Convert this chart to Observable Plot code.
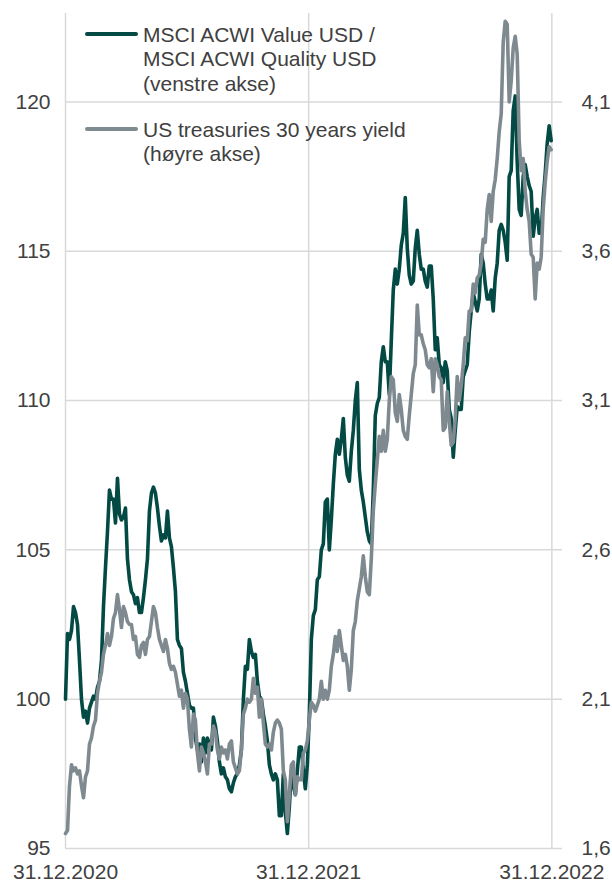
<!DOCTYPE html>
<html>
<head>
<meta charset="utf-8">
<script src="https://cdn.jsdelivr.net/npm/d3@7"></script>
<script src="https://cdn.jsdelivr.net/npm/@observablehq/plot@0.6"></script>
<style>
  html, body { margin: 0; padding: 0; background: #fff; }
  #wrap { position: relative; width: 612px; height: 882px; font-family: "Liberation Sans", Arial, sans-serif; color: #404040; }
  .leg { position: absolute; left: 85px; font-size: 21px; line-height: 24.7px; white-space: nowrap; }
  .sw { position: absolute; left: 0; width: 53px; height: 4px; border-radius: 2px; }
  .lt { position: absolute; left: 58px; top: 0; }
</style>
</head>
<body>
<div id="wrap">
  <div id="chart"></div>
  <div class="leg" style="top:22.6px"><span class="sw" id="sw1" style="top:9.4px"></span><span class="lt" id="lt1"></span></div>
  <div class="leg" style="top:117.6px"><span class="sw" id="sw2" style="top:9.4px"></span><span class="lt" id="lt2"></span></div>
</div>
<script>
// ---- Data ----
const seriesNames = [
  ["MSCI ACWI Value USD /", "MSCI ACWI Quality USD", "(venstre akse)"],
  ["US treasuries 30 years yield", "(høyre akse)"]
];
const seriesColors = ["#034a45", "#7f8a90"];

// Samples every 3 days starting 31.12.2020
const sampleStart = "2020-12-31";
const sampleStepDays = 3;

// MSCI ACWI Value / Quality ratio (left axis)
const ratioValues = [
  100.0,102.2,102.0,102.3,103.1,102.9,102.5,101.3,100.0,99.4,
  99.6,99.2,99.7,99.9,100.1,100.0,100.4,100.6,101.3,103.1,
  104.4,105.6,107.0,106.7,106.7,105.9,107.4,106.2,106.0,106.1,
  106.4,104.7,104.0,103.6,103.5,103.2,103.4,102.9,102.9,103.4,
  104.0,104.7,106.3,106.9,107.1,106.9,106.4,105.8,105.3,105.5,
  105.4,106.3,105.4,105.1,104.4,103.6,102.0,101.8,101.7,100.9,
  100.6,100.2,99.8,99.7,99.7,98.7,98.3,98.5,97.9,98.7,
  98.2,98.7,98.5,98.3,99.4,99.1,98.6,97.9,97.5,97.7,
  97.4,97.3,97.0,96.9,97.2,97.4,97.5,97.8,98.3,100.0,
  101.1,101.0,102.0,101.6,101.4,101.5,100.6,100.1,100.0,99.5,
  99.1,98.6,97.8,97.5,97.3,97.5,97.3,96.1,96.1,97.5,
  96.2,95.5,96.4,97.6,97.1,96.8,97.6,98.4,98.4,97.6,
  97.0,97.8,99.5,102.0,102.8,103.0,104.0,104.1,105.0,105.2,
  106.6,106.7,105.0,106.0,107.2,108.2,108.7,108.2,108.7,109.4,
  108.1,107.5,107.3,108.3,109.0,110.0,110.6,107.7,107.0,106.6,
  106.1,105.6,105.3,105.2,107.0,109.5,109.9,110.1,111.3,111.8,
  111.3,111.3,110.2,112.0,113.7,114.4,113.9,114.4,115.2,115.6,
  116.8,115.1,114.2,113.9,114.0,115.1,115.7,114.9,114.4,114.4,
  114.0,113.8,114.5,114.5,113.4,111.7,112.1,111.2,111.1,110.6,
  111.3,111.0,109.7,109.4,108.1,109.0,109.8,109.7,109.7,110.8,
  111.0,111.2,112.3,113.0,113.6,113.3,113.0,113.4,114.9,114.6,
  113.9,113.4,113.4,113.7,113.0,114.1,114.6,115.7,115.9,115.7,
  115.3,114.7,117.5,117.7,119.7,120.2,118.0,116.4,116.2,117.5,
  117.9,117.5,117.2,117.0,115.5,116.1,116.4,115.6,115.6,116.8,
  117.6,118.6,119.2,118.7
];

// US treasuries 30 years yield, % (right axis)
const yieldValues = [
  1.65,1.66,1.81,1.88,1.86,1.87,1.85,1.86,1.81,1.77,
  1.84,1.86,1.95,1.97,2.01,2.03,2.12,2.16,2.19,2.25,
  2.28,2.32,2.28,2.31,2.37,2.39,2.45,2.40,2.34,2.41,
  2.39,2.36,2.35,2.35,2.30,2.31,2.25,2.24,2.28,2.29,
  2.25,2.30,2.31,2.36,2.41,2.39,2.34,2.30,2.28,2.26,
  2.30,2.27,2.22,2.20,2.21,2.19,2.15,2.11,2.13,2.07,
  2.12,2.10,2.00,1.94,2.05,2.03,1.92,1.86,1.94,1.92,
  1.89,1.85,1.95,1.95,2.01,1.99,1.93,1.90,1.94,1.92,
  1.93,1.90,1.95,1.96,1.89,1.87,1.85,1.86,1.93,2.05,
  2.07,2.10,2.09,2.10,2.17,2.12,2.14,2.04,2.10,2.02,
  1.95,1.94,1.95,1.93,1.99,2.02,2.03,2.02,2.00,1.86,
  1.83,1.69,1.78,1.88,1.89,1.78,1.84,1.83,1.83,1.92,
  1.93,1.96,2.03,2.09,2.08,2.06,2.08,2.10,2.16,2.10,
  2.13,2.10,2.13,2.21,2.25,2.31,2.26,2.33,2.28,2.23,
  2.25,2.21,2.13,2.20,2.33,2.36,2.43,2.47,2.51,2.58,
  2.51,2.46,2.45,2.57,2.73,2.82,2.90,2.98,2.93,3.00,
  2.93,2.97,3.10,3.18,3.17,3.06,3.03,3.12,3.07,3.00,
  2.98,2.97,3.05,3.12,3.19,3.22,3.42,3.32,3.32,3.29,
  3.27,3.22,3.21,3.24,3.13,3.24,3.22,3.18,3.17,3.00,
  3.01,3.13,3.03,2.95,2.96,3.04,3.18,3.10,3.15,3.22,
  3.31,3.30,3.40,3.40,3.49,3.46,3.51,3.52,3.56,3.64,
  3.63,3.74,3.79,3.70,3.80,3.84,3.91,4.00,4.06,4.30,
  4.37,4.36,4.10,4.17,4.28,4.32,4.26,3.97,3.87,3.91,
  3.80,3.74,3.70,3.59,3.58,3.44,3.56,3.54,3.58,3.74,
  3.83,3.90,3.95,3.94
];

// Axes
const leftTicks = [95, 100, 105, 110, 115, 120];
const rightTickYields = [1.6, 2.1, 2.6, 3.1, 3.6, 4.1];
const rightTickLabels = ["1,6", "2,1", "2,6", "3,1", "3,6", "4,1"];
const xTickDateStrings = ["2020-12-31", "2021-12-31", "2022-12-31"];
const xTickLabels = ["31.12.2020", "31.12.2021", "31.12.2022"];
const xDomainStrings = ["2020-12-31", "2023-01-16"];
const leftDomain = [95, 122.96];
// axis link: left value = leftBase + (yield - rightBase) * axisFactor
const leftBase = 95, rightBase = 1.6, axisFactor = 10;

// ---- Build ----
const parse = d3.utcParse("%Y-%m-%d");
const start = parse(sampleStart);
const ratioData = ratioValues.map((v, i) => ({date: d3.utcDay.offset(start, i * sampleStepDays), value: v}));
const yieldData = yieldValues.map((v, i) => ({date: d3.utcDay.offset(start, i * sampleStepDays), value: v}));
const toLeft = y => leftBase + (y - rightBase) * axisFactor;

const xTickDates = xTickDateStrings.map(parse);
const xLabelMap = new Map(xTickDates.map((d, i) => [+d, xTickLabels[i]]));
const rightTickPos = rightTickYields.map(toLeft);
const rightLabelMap = new Map(rightTickPos.map((p, i) => [p, rightTickLabels[i]]));

const gridColor = "#d9d9d9";
const textColor = "#404040";

const chart = Plot.plot({
  width: 612,
  height: 882,
  marginLeft: 65,
  marginRight: 50,
  marginTop: 13,
  marginBottom: 34,
  style: {fontFamily: '"Liberation Sans", Arial, sans-serif', fontSize: "21px", color: textColor, background: "#fff"},
  x: {type: "utc", domain: xDomainStrings.map(parse)},
  y: {domain: leftDomain},
  marks: [
    Plot.gridY(leftTicks, {stroke: gridColor, strokeOpacity: 1, strokeWidth: 1.5}),
    Plot.gridX(xTickDates, {stroke: gridColor, strokeOpacity: 1, strokeWidth: 1.5}),
    Plot.axisY(leftTicks, {anchor: "left", tickSize: 0, tickPadding: 15, label: null, fill: textColor}),
    Plot.axisY(rightTickPos, {anchor: "right", tickSize: 0, tickPadding: 19, label: null, fill: textColor, tickFormat: d => rightLabelMap.get(d)}),
    Plot.axisX(xTickDates, {anchor: "bottom", tickSize: 0, tickPadding: 16, label: null, fill: textColor, tickFormat: d => xLabelMap.get(+d)}),
    Plot.line(ratioData, {x: "date", y: "value", stroke: seriesColors[0], strokeWidth: 3.6}),
    Plot.line(yieldData, {x: "date", y: d => toLeft(d.value), stroke: seriesColors[1], strokeWidth: 3.6})
  ]
});
document.getElementById("chart").appendChild(chart);

// Legend
document.getElementById("sw1").style.background = seriesColors[0];
document.getElementById("sw2").style.background = seriesColors[1];
document.getElementById("lt1").innerHTML = seriesNames[0].join("<br>");
document.getElementById("lt2").innerHTML = seriesNames[1].join("<br>");
</script>
</body>
</html>
